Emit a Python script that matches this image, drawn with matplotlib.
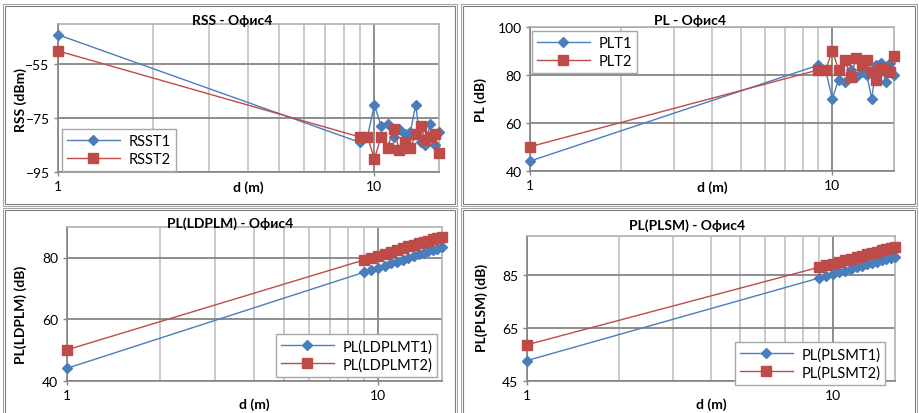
import numpy as np
import matplotlib
matplotlib.use('Agg')
import matplotlib.pyplot as plt
from matplotlib.patches import Rectangle
from matplotlib.ticker import FixedLocator, NullFormatter

plt.rcParams['font.family'] = ['Lato', 'Open Sans', 'DejaVu Sans']

# distances (m)
d = [1, 9, 9.5, 10, 10.5, 11, 11.5, 12, 12.5, 13, 13.5, 14, 14.5, 15, 15.5, 16]

# measured values
rss_t1 = [-44, -84, -82, -70, -78, -77, -82, -79, -81, -80, -70, -84, -85, -77, -85, -80]
rss_t2 = [-50, -82, -82, -90, -82, -86, -79, -87, -84, -86, -81, -78, -83, -82, -81, -88]
pl_t1 = [44, 84, 82, 70, 78, 77, 82, 79, 81, 80, 70, 84, 85, 77, 85, 80]
pl_t2 = [50, 82, 82, 90, 82, 86, 79, 87, 84, 86, 81, 78, 83, 82, 81, 88]

# model values
ldplm_t1 = [44.0, 75.2, 76.0, 76.7, 77.4, 78.1, 78.7, 79.3, 79.9, 80.4, 81.0, 81.5, 82.0, 82.5, 82.9, 83.4]
ldplm_t2 = [50.0, 79.2, 79.9, 80.6, 81.2, 81.9, 82.5, 83.0, 83.6, 84.1, 84.6, 85.1, 85.5, 86.0, 86.4, 86.8]
plsm_t1 = [52.6, 83.9, 84.7, 85.4, 86.1, 86.8, 87.4, 88.0, 88.6, 89.1, 89.7, 90.2, 90.7, 91.2, 91.6, 92.1]
plsm_t2 = [58.6, 88.0, 88.7, 89.4, 90.1, 90.7, 91.3, 91.8, 92.4, 92.9, 93.4, 93.9, 94.4, 94.8, 95.3, 95.7]

BLUE = '#4a7ebb'
RED = '#be4b48'
W, H = 919, 414

fig = plt.figure(figsize=(W / 100, H / 100), dpi=100)


def px_axes(l, r, t, b):
    return fig.add_axes([l / W, 1 - b / H, (r - l) / W, (b - t) / H])


def panel_frame(x0, x1, y0, y1):
    for off, col in [(0, '#a6a6a6'), (2, '#7f7f7f')]:
        fig.add_artist(Rectangle(((x0 + off) / W, 1 - (y1 - off) / H),
                                 (x1 - x0 - 2 * off) / W, (y1 - y0 - 2 * off) / H,
                                 transform=fig.transFigure, fill=False, ec=col, lw=0.8))


def setup(ax, yticks, ylim, ylabel, title, tx, ty, ylx, yly):
    ax.set_xscale('log')
    ax.set_xlim(1, 16)
    ax.set_ylim(*ylim)
    ax.xaxis.set_major_locator(FixedLocator([1, 10]))
    ax.xaxis.set_minor_locator(FixedLocator([2, 3, 4, 5, 6, 7, 8, 9]))
    ax.xaxis.set_minor_formatter(NullFormatter())
    ax.set_xticklabels(['1', '10'])
    ax.set_yticks(yticks)
    ax.grid(True, which='major', color='#858585', lw=1.3)
    ax.grid(True, which='minor', axis='x', color='#c6c6c6', lw=1.3)
    ax.set_axisbelow(True)
    ax.tick_params(which='major', length=3, width=1, color='#858585', labelsize=10, pad=3)
    ax.tick_params(which='minor', length=0)
    for s in ['left', 'bottom']:
        ax.spines[s].set_color('#858585')
        ax.spines[s].set_linewidth(1.2)
    for s in ['top', 'right']:
        ax.spines[s].set_color('#b0b0b0')
        ax.spines[s].set_linewidth(1.2)
    ax.set_xlabel('d (m)', fontweight='bold', fontsize=10)
    ax.xaxis.label.set_va('center')
    ax.set_ylabel(ylabel, fontweight='bold', fontsize=10)
    ax.yaxis.label.set_va('center')
    ax.yaxis.set_label_coords(ylx / W, 1 - yly / H, transform=fig.transFigure)
    fig.text(tx / W, 1 - ty / H, title, ha='center', va='center',
             fontweight='bold', fontsize=10)


def legend(ax, lx, ly):
    lg = ax.legend(loc='upper left', bbox_to_anchor=(lx / W, 1 - ly / H),
                   bbox_transform=fig.transFigure, borderaxespad=0, fancybox=False,
                   fontsize=10.5, handlelength=3.6, handletextpad=0.6,
                   labelspacing=0.25, borderpad=0.35, framealpha=1)
    lg.get_frame().set_edgecolor('#a6a6a6')
    lg.get_frame().set_linewidth(1.0)
    lg.set_zorder(5)


def draw(ax, y1, y2, lab1, lab2):
    ax.plot(d, y1, color=BLUE, lw=1, marker='D', ms=5.5, label=lab1, zorder=3, clip_on=False)
    ax.plot(d, y2, color=RED, lw=1, marker='s', ms=6.5, label=lab2, zorder=3, clip_on=False)


panel_frame(3, 457, 5, 207)
panel_frame(461, 917, 5, 207)
panel_frame(3, 457, 209, 420)
panel_frame(461, 917, 209, 420)

# RSS
ax1 = px_axes(58, 439, 25, 173)
draw(ax1, rss_t1, rss_t2, 'RSST1', 'RSST2')
setup(ax1, [-95, -75, -55], (-95, -40), 'RSS (dBm)', 'RSS - Офис4', 232, 21, 21, 100)
ax1.xaxis.set_label_coords(0.5, -0.1)
legend(ax1, 62, 130)

# PL
ax2 = px_axes(530, 894, 27.7, 171.7)
draw(ax2, pl_t1, pl_t2, 'PLT1', 'PLT2')
setup(ax2, [40, 60, 80, 100], (40, 100), 'PL (dB)', 'PL - Офис4', 690, 21, 481, 100)
ax2.xaxis.set_label_coords(0.5, -0.11)
legend(ax2, 532, 32)

# LDPLM
ax3 = px_axes(66.7, 441.7, 227.7, 381.7)
draw(ax3, ldplm_t1, ldplm_t2, 'PL(LDPLMT1)', 'PL(LDPLMT2)')
setup(ax3, [40, 60, 80], (40, 90), 'PL(LDPLM) (dB)', 'PL(LDPLM) - Офис4', 230, 224, 21, 315)
ax3.xaxis.set_label_coords(0.5, -0.15)
legend(ax3, 276, 335)

# PLSM
ax4 = px_axes(526.7, 895, 236.7, 381.7)
draw(ax4, plsm_t1, plsm_t2, 'PL(PLSMT1)', 'PL(PLSMT2)')
setup(ax4, [45, 65, 85], (45, 100), 'PL(PLSM) (dB)', 'PL(PLSM) - Офис4', 687, 226, 482, 308)
ax4.xaxis.set_label_coords(0.5, -0.16)
legend(ax4, 735, 343)

fig.savefig('out.png', dpi=100)
